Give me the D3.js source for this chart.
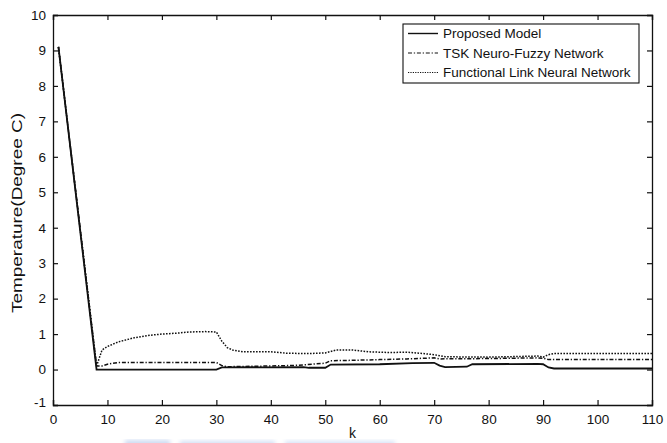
<!DOCTYPE html>
<html>
<head>
<meta charset="utf-8">
<script src="https://cdn.jsdelivr.net/npm/d3@7"></script>
<style>
  body { margin: 0; background: #fff; }
  text { font-family: Arial, "Liberation Sans", sans-serif; fill: #111; }
  .tick-label { font-size: 13.5px; }
  .axis-label { font-size: 14px; }
  .legend-text { font-size: 13.5px; }
</style>
</head>
<body>
<svg width="667" height="443"></svg>
<script>
// sample index k and the three model outputs (degree C)
const proposedK = [1, 8, 30, 31, 46, 47, 50, 51, 60, 66, 70, 71, 72, 76, 77, 89, 90, 91, 92, 110];
const proposedV = [9.1, 0, 0, 0.06, 0.07, 0.05, 0.05, 0.14, 0.15, 0.18, 0.19, 0.11, 0.07, 0.08, 0.15, 0.16, 0.15, 0.06, 0.03, 0.03];

const tskK = [1, 8, 9, 10, 12, 30, 31, 32, 40, 45, 50, 51, 55, 60, 65, 70, 71, 80, 89, 90, 91, 110];
const tskV = [9.1, 0.1, 0.1, 0.15, 0.2, 0.2, 0.11, 0.08, 0.1, 0.12, 0.18, 0.25, 0.26, 0.28, 0.3, 0.33, 0.3, 0.31, 0.33, 0.32, 0.28, 0.28];

const flnnK = [1, 8, 9, 10, 12, 15, 18, 20, 23, 25, 28, 30, 31, 32, 33, 35, 40, 43, 47, 50, 52, 55, 58, 62, 65, 68, 70, 72, 80, 89, 90, 91, 92, 110];
const flnnV = [9.1, 0.1, 0.55, 0.65, 0.78, 0.9, 0.97, 1.0, 1.03, 1.06, 1.07, 1.06, 0.8, 0.62, 0.55, 0.5, 0.5, 0.46, 0.45, 0.47, 0.55, 0.55, 0.5, 0.48, 0.49, 0.45, 0.42, 0.36, 0.35, 0.38, 0.35, 0.42, 0.45, 0.45];

const xTicks = [0, 10, 20, 30, 40, 50, 60, 70, 80, 90, 100, 110];
const yTicks = [-1, 0, 1, 2, 3, 4, 5, 6, 7, 8, 9, 10];
const seriesNames = ['Proposed Model', 'TSK Neuro-Fuzzy Network', 'Functional Link Neural Network'];

const svg = d3.select('svg');
const width = +svg.attr('width');
const height = +svg.attr('height');

// faint blue smear along the bottom edge of the scan
const defs = svg.append('defs');
defs.append('filter').attr('id', 'smear')
  .append('feGaussianBlur').attr('stdDeviation', 2);
const smearG = svg.append('g').attr('filter', 'url(#smear)').attr('opacity', 0.5);
smearG.append('rect').attr('x', 125).attr('y', 440).attr('width', 45).attr('height', 8).attr('fill', '#9fb9e6');
smearG.append('rect').attr('x', 180).attr('y', 441).attr('width', 95).attr('height', 8).attr('fill', '#a9c1ea');
smearG.append('rect').attr('x', 285).attr('y', 441).attr('width', 110).attr('height', 8).attr('fill', '#b3c8ee');

const margin = {top: 15, right: 15, bottom: 38, left: 53};
const innerWidth = width - margin.left - margin.right;
const innerHeight = height - margin.top - margin.bottom;

const g = svg.append('g').attr('transform', `translate(${margin.left}, ${margin.top})`);

const xScale = d3.scaleLinear().domain([0, 110]).range([0, innerWidth]);
const yScale = d3.scaleLinear().domain([-1, 10]).range([innerHeight, 0]);

// MATLAB style box: ticks pointing inward on all four sides
const tickLen = 5;
const plain = d => String(d);
const xAxisBottom = d3.axisBottom(xScale).tickValues(xTicks).tickSize(-tickLen).tickPadding(9).tickFormat(plain);
const xAxisTop = d3.axisTop(xScale).tickValues(xTicks).tickSize(-tickLen).tickFormat('');
const yAxisLeft = d3.axisLeft(yScale).tickValues(yTicks).tickSize(-tickLen).tickPadding(7).tickFormat(plain);
const yAxisRight = d3.axisRight(yScale).tickValues(yTicks).tickSize(-tickLen).tickFormat('');

const styleAxis = sel => {
  sel.attr('font-family', null).attr('font-size', null);
  sel.selectAll('.domain').attr('stroke', '#111').attr('stroke-width', 1.3);
  sel.selectAll('.tick line').attr('stroke', '#111').attr('stroke-width', 1.2);
  sel.selectAll('.tick text').attr('class', 'tick-label').attr('fill', '#111');
};

g.append('g').attr('transform', `translate(0, ${innerHeight})`).call(xAxisBottom).call(styleAxis);
g.append('g').call(xAxisTop).call(styleAxis);
const yAxisG = g.append('g').call(yAxisLeft).call(styleAxis);
g.append('g').attr('transform', `translate(${innerWidth}, 0)`).call(yAxisRight).call(styleAxis);

// the -1 label sits a little above its tick
yAxisG.selectAll('.tick').filter(d => d === -1).select('text').attr('dy', '0.1em');

const lineGenerator = d3.line()
  .x(d => xScale(d[0]))
  .y(d => yScale(d[1]));

const zip = (ks, vs) => ks.map((k, i) => [k, vs[i]]);

const series = [
  {data: zip(flnnK, flnnV), dash: '1.6,1.4', width: 1.5},
  {data: zip(tskK, tskV), dash: '4,1.8,1.3,1.8', width: 1.5},
  {data: zip(proposedK, proposedV), dash: null, width: 1.8}
];

g.selectAll('.line-path').data(series).enter()
  .append('path')
  .attr('class', 'line-path')
  .attr('fill', 'none')
  .attr('stroke', '#111')
  .attr('stroke-width', d => d.width)
  .attr('stroke-dasharray', d => d.dash)
  .attr('d', d => lineGenerator(d.data));

// legend
const legendStyles = [
  {dash: null, width: 1.4},
  {dash: '4,1.8,1.3,1.8', width: 1.2},
  {dash: '1.2,1.2', width: 1.1}
];
const legendG = svg.append('g').attr('transform', 'translate(403, 24)');
legendG.append('rect')
  .attr('width', 236).attr('height', 59)
  .attr('fill', '#fff').attr('stroke', '#111').attr('stroke-width', 1.1);
seriesNames.forEach((name, i) => {
  const y = 9.5 + i * 19.5;
  legendG.append('line')
    .attr('x1', 5).attr('x2', 35).attr('y1', y).attr('y2', y)
    .attr('stroke', '#111')
    .attr('stroke-width', legendStyles[i].width)
    .attr('stroke-dasharray', legendStyles[i].dash);
  legendG.append('text')
    .attr('class', 'legend-text')
    .attr('x', 40).attr('y', y)
    .attr('dy', '0.36em')
    .text(name);
});

// axis titles
svg.append('text')
  .attr('class', 'axis-label')
  .attr('x', margin.left + innerWidth / 2)
  .attr('y', 438)
  .attr('text-anchor', 'middle')
  .text('k');

svg.append('text')
  .attr('class', 'axis-label')
  .attr('transform', `translate(22, 213) rotate(-90)`)
  .attr('text-anchor', 'middle')
  .attr('textLength', 200)
  .attr('lengthAdjust', 'spacingAndGlyphs')
  .text('Temperature(Degree C)');
</script>
</body>
</html>
